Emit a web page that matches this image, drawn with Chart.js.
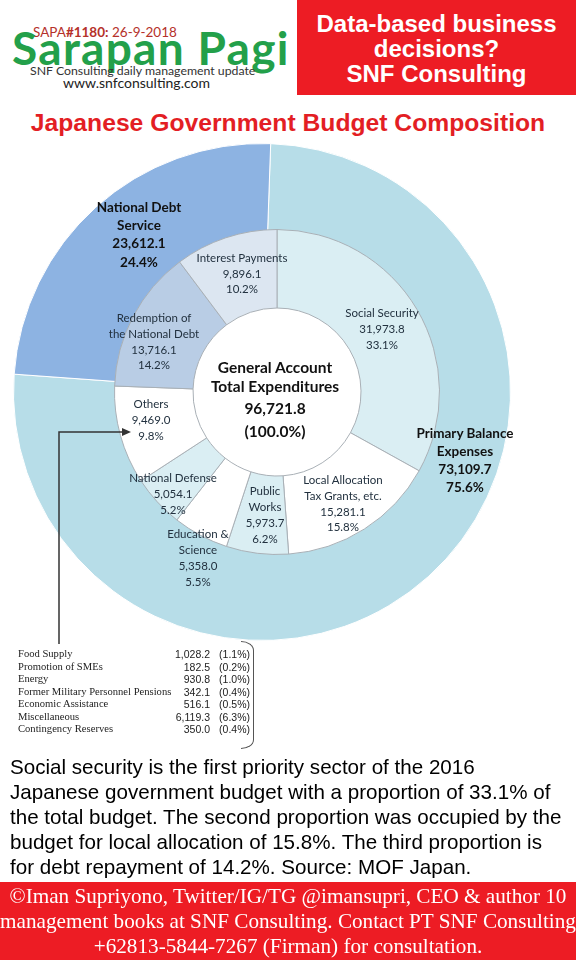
<!DOCTYPE html>
<html>
<head>
<meta charset="utf-8">
<script src="https://cdn.jsdelivr.net/npm/chart.js@4.4.1/dist/chart.umd.min.js"></script>
<style>
  html, body { margin: 0; padding: 0; }
  body { width: 576px; height: 960px; position: relative; overflow: hidden; background: #fff; font-family: "Liberation Sans", Arial, sans-serif; }
  .abs { position: absolute; }
  #sapa { left: 33px; top: 24px; font: 13.5px Lato, sans-serif; color: #b5312a; white-space: nowrap; }
  #sapa b { font-weight: 700; }
  #brand { left: 12px; top: 25px; font: 700 46px/46px Lato, sans-serif; color: #23a04a; letter-spacing: 1.3px; white-space: nowrap; }
  #tagline { left: 30px; top: 64px; font: 12.3px/14px Lato, sans-serif; color: #333; white-space: nowrap; }
  #site { left: 63px; top: 75px; font: 14px/15px Lato, sans-serif; color: #222; white-space: nowrap; }
  #promo { left: 297px; top: 0; width: 279px; height: 95px; background: #ed1c24; color: #fff; font: 700 24px/25px "Liberation Sans", Arial, sans-serif; text-align: center; padding-top: 11px; box-sizing: border-box; }
  #title { left: 0; width: 576px; top: 108px; text-align: center; font: 700 24.7px/30px "Liberation Sans", Arial, sans-serif; color: #e31e24; white-space: nowrap; }
  canvas { position: absolute; }
  .lbl { position: absolute; transform: translateX(-50%); text-align: center; white-space: nowrap; font-family: Lato, sans-serif; color: #22313f; }
  .lbl.big { font-weight: 700; color: #111; }
  .row { position: absolute; white-space: nowrap; line-height: 12px; }
  #para { left: 10px; top: 754px; font: 20.6px/25px "Liberation Sans", Arial, sans-serif; color: #000; white-space: nowrap; }
  #foot { left: 0; top: 882px; width: 576px; height: 78px; background: #ed1c24; color: #fff; font: 21.2px/25px "Liberation Serif", "Times New Roman", serif; text-align: center; padding-top: 2px; box-sizing: border-box; white-space: nowrap; }
</style>
</head>
<body>
<div id="sapa" class="abs">SAPA<b>#1180:</b> 26-9-2018</div>
<div id="brand" class="abs">Sarapan Pagi</div>
<div id="tagline" class="abs">SNF Consulting daily management update</div>
<div id="site" class="abs">www.snfconsulting.com</div>
<div id="promo" class="abs">Data-based business<br>decisions?<br>SNF Consulting</div>
<div id="title" class="abs">Japanese Government Budget Composition</div>

<canvas id="outerChart" width="498" height="498" style="left:13px; top:143px;"></canvas>
<canvas id="innerChart" width="326" height="326" style="left:114px; top:229px;"></canvas>

<svg class="abs" style="left:0; top:0;" width="576" height="960">
  <path d="M59 644 L59 432 L124 432" fill="none" stroke="#333" stroke-width="1.5"/>
  <path d="M122 428 L131 432 L122 436 Z" fill="#333"/>
</svg>

<div id="labels"></div>

<div id="para" class="abs">Social security is the first priority sector of the 2016<br>Japanese government budget with a proportion of 33.1% of<br>the total budget. The second proportion was occupied by the<br>budget for local allocation of 15.8%. The third proportion is<br>for debt repayment of 14.2%. Source: MOF Japan.</div>
<div id="foot" class="abs">©Iman Supriyono, Twitter/IG/TG @imansupri, CEO &amp; author 10<br>management books at SNF Consulting. Contact PT SNF Consulting<br>+62813-5844-7267 (Firman) for consultation.</div>

<script>
// outer ring: primary balance vs debt service
const outerLabels = [["Primary Balance", "Expenses"], ["National Debt", "Service"]];
const outerValues = [73109.7, 23612.1];
const outerPcts = [75.6, 24.4];

// inner ring, clockwise from 12 o'clock
const innerLabels = [
  ["Social Security"],
  ["Local Allocation", "Tax Grants, etc."],
  ["Public", "Works"],
  ["Education &", "Science"],
  ["National Defense"],
  ["Others"],
  ["Redemption of", "the National Debt"],
  ["Interest Payments"]
];
const innerValues = [31973.8, 15281.1, 5973.7, 5358.0, 5054.1, 9469.0, 13716.1, 9896.1];
const innerPcts = [33.1, 15.8, 6.2, 5.5, 5.2, 9.8, 14.2, 10.2];

const totalLabel = ["General Account", "Total Expenditures"];
const totalValue = 96721.8;
const totalPct = 100.0;

// breakdown of "Others"
const otherNames = ["Food Supply", "Promotion of SMEs", "Energy", "Former Military Personnel Pensions", "Economic Assistance", "Miscellaneous", "Contingency Reserves"];
const otherValues = [1028.2, 182.5, 930.8, 342.1, 516.1, 6119.3, 350.0];
const otherPcts = [1.1, 0.2, 1.0, 0.4, 0.5, 6.3, 0.4];

const outerColors = ["#b7dde8", "#8db3e2"];
const innerColors = ["#daeef3", "#ffffff", "#daeef3", "#ffffff", "#daeef3", "#ffffff", "#b9cde5", "#dce6f1"];

// label placement: [centre x, first line y, line height, font size]
const outerPos = [[465, 433, 18, 13.5], [139, 207, 18.3, 13.5]];
const innerPos = [
  [382, 313, 16, 11.5], [343, 480, 15.7, 11.5], [265, 491, 16, 11.5], [198, 534, 16, 11.5],
  [173, 478, 16, 11.5], [151, 404, 16, 11.5], [154, 318, 15.7, 11.5], [242, 258, 15.5, 11.5]
];

const fmt = (v) => v.toLocaleString("en-US", { minimumFractionDigits: 1, maximumFractionDigits: 1 });

const noUi = { legend: { display: false }, tooltip: { enabled: false } };

new Chart(document.getElementById("outerChart"), {
  type: "doughnut",
  data: {
    labels: outerLabels.map((l) => l.join(" ")),
    datasets: [{ data: outerValues, backgroundColor: outerColors, borderColor: "#ffffff", borderWidth: 1 }]
  },
  options: { responsive: false, animation: false, cutout: 125, rotation: 2, plugins: noUi }
});

new Chart(document.getElementById("innerChart"), {
  type: "doughnut",
  data: {
    labels: innerLabels.map((l) => l.join(" ")),
    datasets: [{ data: innerValues, backgroundColor: innerColors, borderColor: "#a9b0b6", borderWidth: 1 }]
  },
  options: { responsive: false, animation: false, cutout: 84, rotation: 0, plugins: noUi }
});

const box = document.getElementById("labels");
function addLabel(lines, pos, cls) {
  const [x, y, lh, fs] = pos;
  const d = document.createElement("div");
  d.className = "lbl" + (cls ? " " + cls : "");
  d.style.left = x + "px";
  d.style.top = (y - lh / 2) + "px";
  d.style.fontSize = fs + "px";
  d.style.lineHeight = lh + "px";
  d.innerHTML = lines.map((s) => s.replace(/&/g, "&amp;")).join("<br>");
  box.appendChild(d);
}
outerLabels.forEach((l, i) => addLabel(l.concat([fmt(outerValues[i]), outerPcts[i].toFixed(1) + "%"]), outerPos[i], "big"));
innerLabels.forEach((l, i) => addLabel(l.concat([fmt(innerValues[i]), innerPcts[i].toFixed(1) + "%"]), innerPos[i]));

// centre text
const centerLines = totalLabel.concat([fmt(totalValue), "(" + totalPct.toFixed(1) + "%)"]);
const centerY = [367, 386, 408, 431];
centerLines.forEach((s, i) => addLabel([s], [275, centerY[i], 20, 15.5], "big"));

// others breakdown table
otherNames.forEach((name, i) => {
  const y = 648 + i * 12.5;
  const n = document.createElement("div");
  n.className = "row";
  n.style.cssText += `left:18px; top:${y}px; font:10.6px/12px "Liberation Serif", serif; color:#222;`;
  n.textContent = name;
  box.appendChild(n);
  const v = document.createElement("div");
  v.className = "row";
  v.style.cssText += `left:150px; width:60px; text-align:right; top:${y}px; font:10.5px/12px "Liberation Sans", sans-serif; color:#222;`;
  v.textContent = fmt(otherValues[i]);
  box.appendChild(v);
  const p = document.createElement("div");
  p.className = "row";
  p.style.cssText += `left:200px; width:50px; text-align:right; top:${y}px; font:10.5px/12px "Liberation Sans", sans-serif; color:#222;`;
  p.textContent = "(" + otherPcts[i].toFixed(1) + "%)";
  box.appendChild(p);
});
const br = document.createElement("div");
br.style.cssText = "position:absolute; left:241px; top:641px; width:12px; height:106px; border:1.3px solid #555; border-left:none; border-radius:0 14px 14px 0 / 0 10px 10px 0;";
box.appendChild(br);
</script>
</body>
</html>
